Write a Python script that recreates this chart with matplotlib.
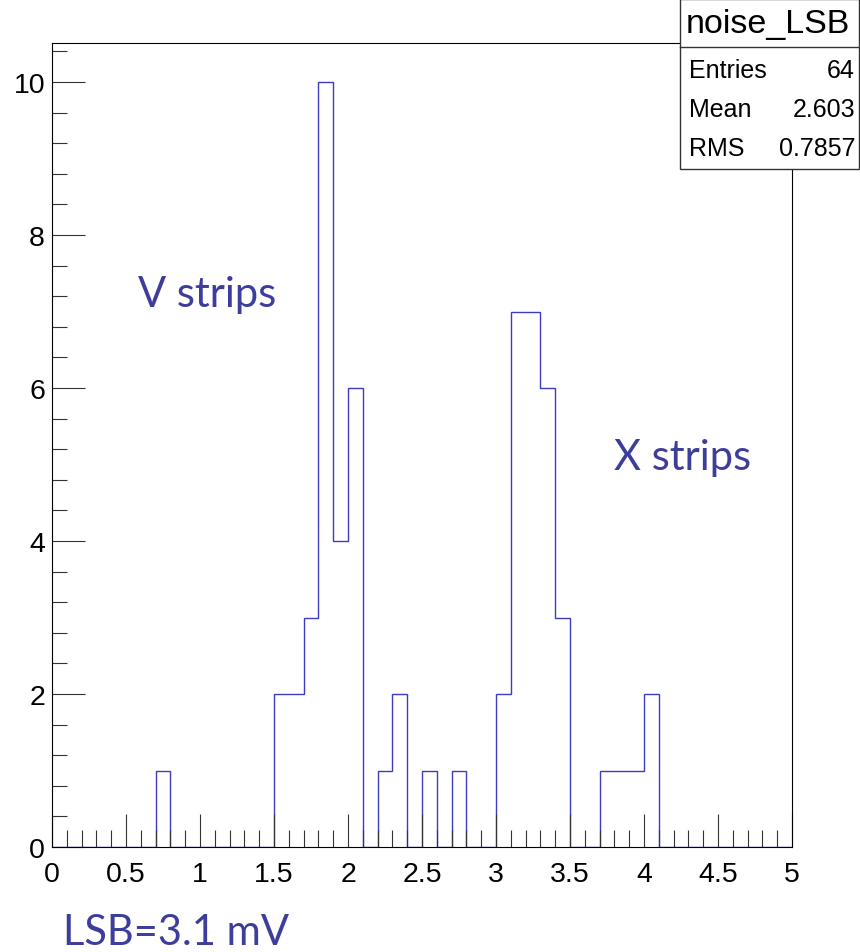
import numpy as np
import matplotlib.pyplot as plt
from matplotlib.patches import Rectangle
from matplotlib.lines import Line2D
from matplotlib.ticker import MultipleLocator

# noise histogram, 50 bins of width 0.1 from 0 to 5
bin_edges = np.linspace(0, 5, 51)
counts = [0, 0, 0, 0, 0, 0, 0, 1, 0, 0,
          0, 0, 0, 0, 0, 2, 2, 3, 10, 4,
          6, 0, 1, 2, 0, 1, 0, 1, 0, 0,
          2, 7, 7, 6, 3, 0, 0, 1, 1, 1,
          2, 0, 0, 0, 0, 0, 0, 0, 0, 0]

stats_title = "noise_LSB"
stats_rows = [("Entries", "64"), ("Mean", "2.603"), ("RMS", "0.7857")]

hist_color = '#3c3cbe'
text_color = '#3d3d9c'

plt.rcParams['font.family'] = ['Liberation Sans', 'DejaVu Sans']

fig = plt.figure(figsize=(8.6, 9.53), dpi=100)
W, H = 860, 953
ax = fig.add_axes([52 / W, 1 - 848 / H, 740 / W, 804 / H])

ax.stairs(counts, bin_edges, color=hist_color, linewidth=1.0)

ax.set_xlim(0, 5)
ax.set_ylim(0, 10.51)
ax.xaxis.set_major_locator(MultipleLocator(0.5))
ax.xaxis.set_minor_locator(MultipleLocator(0.1))
ax.yaxis.set_major_locator(MultipleLocator(2))
ax.yaxis.set_minor_locator(MultipleLocator(0.4))
ax.xaxis.set_major_formatter(plt.FuncFormatter(lambda v, p: f'{v:g}'))
ax.tick_params(which='both', direction='in', labelsize=20.5, width=0.8, color='#333333')
ax.tick_params(axis='x', which='major', length=24, pad=10)
ax.tick_params(axis='x', which='minor', length=12)
ax.tick_params(axis='y', which='major', length=24, pad=5)
ax.tick_params(axis='y', which='minor', length=11)
for s in ax.spines.values():
    s.set_linewidth(0.8)

ax.text(0.58, 7.23, "V strips", family='Lato', fontsize=30, color=text_color, va='center')
ax.text(3.80, 5.1, "X strips", family='Lato', fontsize=30, color=text_color, va='center')
fig.text(63 / W, 1 - 933 / H, "LSB=3.1 mV", family='Lato', fontsize=30, color=text_color, va='center')

# stats box in the top right corner
fig.add_artist(Rectangle((680 / W, 1 - 170 / H), 179 / W, 170 / H, transform=fig.transFigure,
                         facecolor='white', edgecolor='#333333', linewidth=1.0, zorder=5))
fig.add_artist(Line2D([680 / W, 859 / W], [1 - 48 / H, 1 - 48 / H], transform=fig.transFigure,
                      color='#333333', linewidth=1.0, zorder=6))
fig.text(768 / W, 1 - 24 / H, stats_title, fontsize=24.5, ha='center', va='center', zorder=7)
for i, (name, val) in enumerate(stats_rows):
    y = 1 - (71 + 39 * i) / H
    fig.text(689 / W, y, name, fontsize=18, ha='left', va='center', zorder=7)
    fig.text(855 / W, y, val, fontsize=18, ha='right', va='center', zorder=7)

fig.savefig('out.png', dpi=100)
